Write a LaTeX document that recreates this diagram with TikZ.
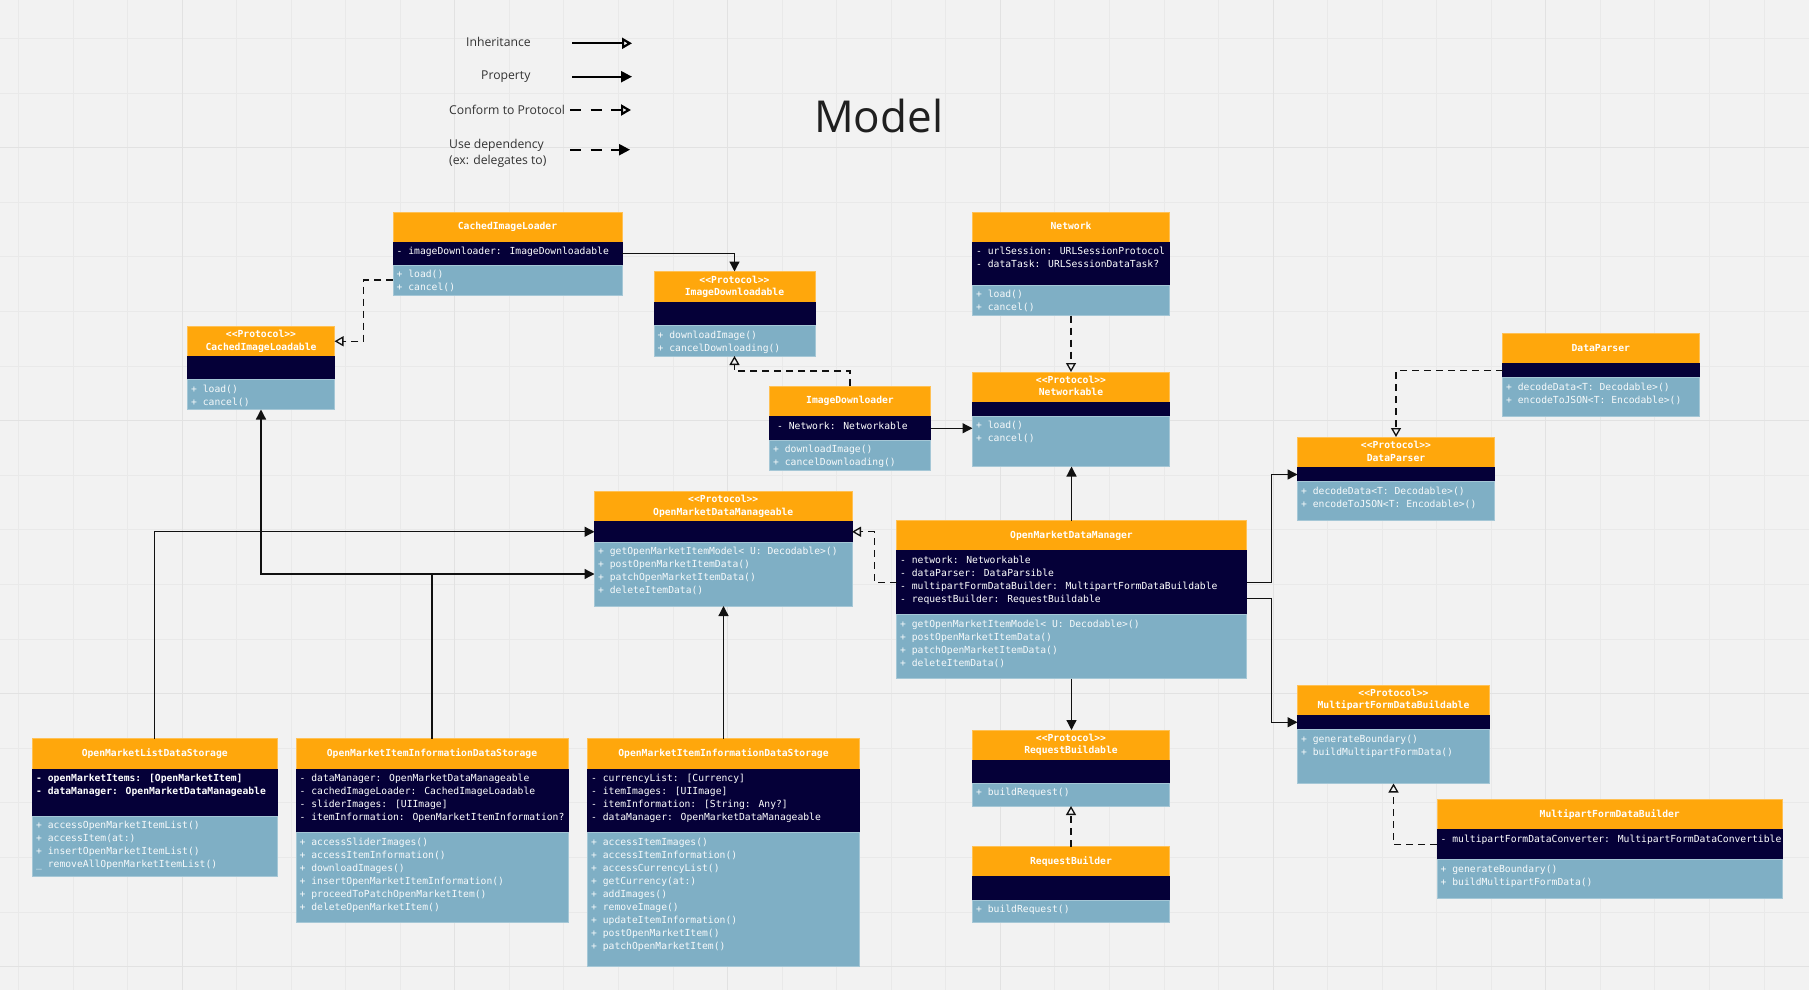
\documentclass[tikz,border=0pt]{standalone}
\usepackage{fontspec}
\setmainfont{Open Sans}
\newfontfamily\monofont{DejaVu Sans Mono}
\usetikzlibrary{arrows.meta,calc}
\definecolor{bgc}{HTML}{F2F2F2}
\definecolor{gridc}{HTML}{E9E9E9}
\definecolor{gridmaj}{HTML}{E2E2E2}
\definecolor{hdrc}{HTML}{FFA70C}
\definecolor{atrc}{HTML}{050038}
\definecolor{mthc}{HTML}{7FAFC5}
\definecolor{inkc}{HTML}{111111}
\definecolor{legc}{HTML}{333333}
\newcommand\memfont{\monofont\fontsize{9.7}{13}\selectfont}
\newcommand\hdrfont{\monofont\bfseries\fontsize{9.7}{12.5}\selectfont}
\newcommand\PR[1]{<<Protocol>>\\\strut #1}
\def\umlparse#1,#2,#3,#4,#5,#6\relax{\def\ux{#1}\def\uy{#2}\def\uxx{#3}\def\uyh{#4}\def\uya{#5}\def\uyy{#6}}
\newcommand\umlclass[5]{%
  \umlparse#2\relax
  \node[hsec, minimum width={(\uxx-\ux)*1pt}, minimum height={(\uyh-\uy)*1pt}] (#1-h) at ({(\ux+\uxx)/2},{(\uy+\uyh)/2}) {};
  \node[asec, minimum width={(\uxx-\ux)*1pt}, minimum height={(\uya-\uyh)*1pt}] (#1-a) at ({(\ux+\uxx)/2},{(\uyh+\uya)/2}) {};
  \node[msec, minimum width={(\uxx-\ux)*1pt}, minimum height={(\uyy-\uya)*1pt}] (#1-m) at ({(\ux+\uxx)/2},{(\uya+\uyy)/2}) {};
  \node[hdrtext] (#1-ht) at (#1-h.center) {\strut #3};
  \node[memtext] (#1-at) at ([xshift=3.5pt,yshift=-3.4pt]#1-a.north west) {\strut #4};
  \node[memtext, text=white!94!mthc] (#1-mt) at ([xshift=3.5pt,yshift=-3.4pt]#1-m.north west) {\strut #5};
}
\tikzset{
  sec/.style={rectangle, inner sep=0pt, outer sep=0pt, line width=0.7pt},
  hsec/.style={sec, fill=hdrc, draw=white!30!hdrc},
  asec/.style={sec, fill=atrc, draw=atrc},
  msec/.style={sec, fill=mthc, draw=white!30!mthc},
  hdrtext/.style={font=\hdrfont, text=white, align=center, inner sep=0pt},
  memtext/.style={font=\memfont, text=white, align=left, inner sep=0pt, anchor=north west},
  prop/.style={draw=inkc, line width=1.3pt, -{Triangle[length=10pt,width=10pt]}},
  conform/.style={draw=inkc, line width=1.3pt, dash pattern=on 7pt off 5pt, -{Triangle[open,length=9pt,width=10pt]}},
  legtext/.style={font=\fontsize{12.2}{16.7}\selectfont, text=legc, inner sep=0pt, anchor=base west, align=left},
  legline/.style={draw=black, line width=2.2pt},
  legdash/.style={legline, dash pattern=on 11pt off 9.5pt},
}
\begin{document}
\begin{tikzpicture}[x=1pt,y=-1pt]
\useasboundingbox (0,0) rectangle (1809,990);
\fill[bgc] (0,0) rectangle (1809,990);
% grid
\foreach \i in {0,...,33} {
  \draw[gridc, line width=0.7pt] ({18.3+\i*54.55},0) -- ({18.3+\i*54.55},990);
}
\foreach \i in {0,...,17} {
  \draw[gridc, line width=0.7pt] (0,{38.3+\i*54.6}) -- (1809,{38.3+\i*54.6});
}
\foreach \i in {0,...,6} {
  \draw[gridmaj, line width=0.8pt] ({181.95+\i*272.75},0) -- ({181.95+\i*272.75},990);
}
\foreach \i in {0,...,3} {
  \draw[gridmaj, line width=0.8pt] (0,{147.5+\i*273}) -- (1809,{147.5+\i*273});
}

% legend
\node[legtext] (lg1) at (466,46.7) {Inheritance};
\node[legtext] (lg2) at (481,80) {Property};
\node[legtext] (lg3) at (449,114) {Conform to Protocol};
\node[legtext] (lg4) at (449,164.7) {Use dependency\\(ex: delegates to)};
\coordinate (la1) at (572,43.3); \coordinate (lb1) at (632,43.3);
\coordinate (la2) at (572,76.7); \coordinate (lb2) at (632,76.7);
\coordinate (la3) at (570,110); \coordinate (lb3) at (631,110);
\coordinate (la4) at (570,149.7); \coordinate (lb4) at (630,149.7);
\draw[legline, -{Triangle[open,length=10pt,width=11pt]}] (la1) -- (lb1);
\draw[legline, -{Triangle[length=11pt,width=11pt]}] (la2) -- (lb2);
\draw[legdash, -{Triangle[open,length=10pt,width=11pt]}] (la3) -- (lb3);
\draw[legdash, -{Triangle[length=11pt,width=11pt]}] (la4) -- (lb4);
\node[font=\fontsize{44}{50}\selectfont, text=black!88, inner sep=0pt, anchor=base west] (title) at (814,132.7) {Model};

% classes
\umlclass{cil}{393,212,622,242,265,295}{CachedImageLoader}{- imageDownloader: ImageDownloadable}{+ load()\\+ cancel()}
\umlclass{cilb}{187.5,326.5,334.5,356,379.5,409.5}{\PR{CachedImageLoadable}}{}{+ load()\\+ cancel()}
\umlclass{idl}{654,271.5,815,302,325.5,356}{\PR{ImageDownloadable}}{}{+ downloadImage()\\+ cancelDownloading()}
\umlclass{net}{972.5,212,1169.5,242,285,315.5}{Network}{- urlSession: URLSessionProtocol\\- dataTask: URLSessionDataTask?}{+ load()\\+ cancel()}
\umlclass{nwk}{972.5,372,1169.5,402,416,466.5}{\PR{Networkable}}{}{+ load()\\+ cancel()}
\umlclass{imd}{769.5,386,930.5,416.5,440,470.5}{ImageDownloader}{\hspace{4pt}- Network: Networkable}{+ downloadImage()\\+ cancelDownloading()}
\umlclass{dp}{1502.5,333.5,1699,363.5,377.5,416.5}{DataParser}{}{+ decodeData<T: Decodable>()\\+ encodeToJSON<T: Encodable>()}
\umlclass{pdp}{1297.5,437,1494.5,467.5,481.5,520.5}{\PR{DataParser}}{}{+ decodeData<T: Decodable>()\\+ encodeToJSON<T: Encodable>()}
\umlclass{omdm}{594.5,491,852,521.5,542,606}{\PR{OpenMarketDataManageable}}{}{+ getOpenMarketItemModel< U: Decodable>()\\+ postOpenMarketItemData()\\+ patchOpenMarketItemData()\\+ deleteItemData()}
\umlclass{omm}{896.5,520.5,1246.5,550.5,614.5,678.5}{OpenMarketDataManager}{- network: Networkable\\- dataParser: DataParsible\\- multipartFormDataBuilder: MultipartFormDataBuildable\\- requestBuilder: RequestBuildable}{+ getOpenMarketItemModel< U: Decodable>()\\+ postOpenMarketItemData()\\+ patchOpenMarketItemData()\\+ deleteItemData()}
\umlclass{mfdb}{1297.5,685,1489.5,715,729.5,783.5}{\PR{MultipartFormDataBuildable}}{}{+ generateBoundary()\\+ buildMultipartFormData()}
\umlclass{mfdr}{1437,799.5,1782.5,829.5,859.5,898.5}{MultipartFormDataBuilder}{- multipartFormDataConverter: MultipartFormDataConvertible}{+ generateBoundary()\\+ buildMultipartFormData()}
\umlclass{rqb}{972.5,730,1169.5,760,783,806}{\PR{RequestBuildable}}{}{+ buildRequest()}
\umlclass{rqr}{972.5,846.5,1169.5,876.5,900,922.5}{RequestBuilder}{}{+ buildRequest()}
\umlclass{omlds}{32.5,738.5,277,769,816,876}{OpenMarketListDataStorage}{\bfseries - openMarketItems: [OpenMarketItem]\\\bfseries - dataManager: OpenMarketDataManageable}{+ accessOpenMarketItemList()\\+ accessItem(at:)\\+ insertOpenMarketItemList()\\\_ removeAllOpenMarketItemList()}
\umlclass{om1}{296,738.5,568,769,832.5,922.5}{OpenMarketItemInformationDataStorage}{- dataManager: OpenMarketDataManageable\\- cachedImageLoader: CachedImageLoadable\\- sliderImages: [UIImage]\\- itemInformation: OpenMarketItemInformation?}{+ accessSliderImages()\\+ accessItemInformation()\\+ downloadImages()\\+ insertOpenMarketItemInformation()\\+ proceedToPatchOpenMarketItem()\\+ deleteOpenMarketItem()}
\umlclass{om2}{587.5,738.5,859.5,769,832.5,966.5}{OpenMarketItemInformationDataStorage}{- currencyList: [Currency]\\- itemImages: [UIImage]\\- itemInformation: [String: Any?]\\- dataManager: OpenMarketDataManageable}{+ accessItemImages()\\+ accessItemInformation()\\+ accessCurrencyList()\\+ getCurrency(at:)\\+ addImages()\\+ removeImage()\\+ updateItemInformation()\\+ postOpenMarketItem()\\+ patchOpenMarketItem()}

% connectors
\draw[prop] (cil-a.east) -| (idl-h.north);
\draw[conform] (cil-m.west) -- ++(-29.4,0) |- (cilb-h.east);
\draw[conform] (imd-h.north) -- ++(0,-15) -| (idl-m.south);
\draw[prop] (imd-a.east) -- (imd-a.east -| nwk-m.west);
\draw[conform] (net-m.south) -- (nwk-h.north);
\draw[prop] (omm-h.north) -- (omm-h.north |- nwk-m.south);
\draw[prop] (omm-m.south) -- (omm-m.south |- rqb-h.north);
\draw[conform] (rqr-h.north) -- (rqb-m.south);
\draw[conform] (omm-a.west) -- ++(-22,0) |- (omdm-a.east);
\draw[prop] (omm-a.east) -- ++(25.3,0) |- (pdp-a.west);
\draw[prop] ([yshift=-16pt]omm-a.east) -- ++(25.3,0) |- (mfdb-a.west);
\draw[conform] (dp-a.west) -| (pdp-h.north);
\draw[conform] (mfdr-a.west) -| (mfdb-m.south);
\draw[prop] (omlds-h.north) |- (omdm-a.west);
\draw[prop] (om1-h.north) |- (omdm-m.west);
\draw[prop] (om1-h.north) -- (om1-h.north |- omdm-m.west) -| (cilb-m.south);
\draw[prop] (om2-h.north) -- (om2-h.north |- omdm-m.south);
\end{tikzpicture}
\end{document}
